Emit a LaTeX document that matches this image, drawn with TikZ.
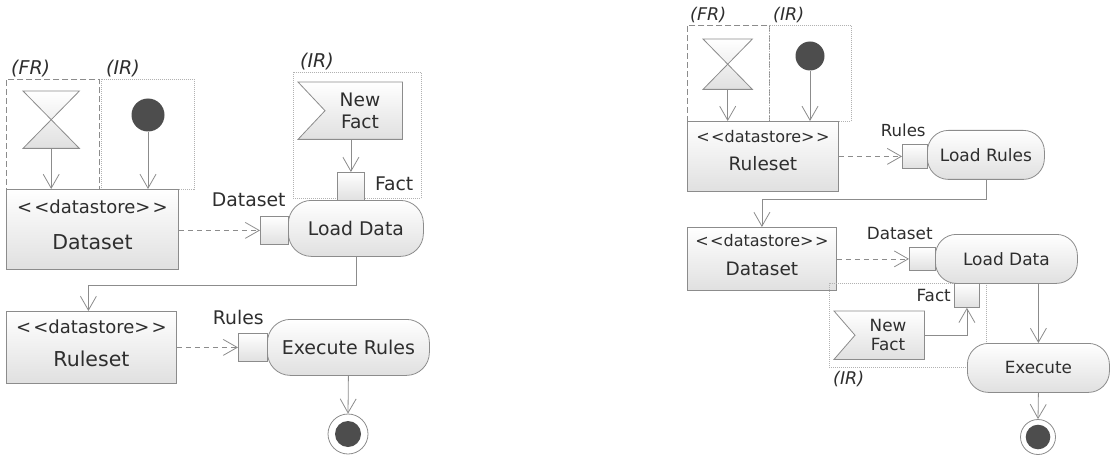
\documentclass[tikz,border=0pt]{standalone}
\usepackage{fontspec}
\setmainfont{DejaVu Sans}
\usetikzlibrary{arrows.meta,calc}
\definecolor{edge}{HTML}{8C8C8C}
\definecolor{shadeb}{HTML}{E0E0E0}
\definecolor{dark}{HTML}{4D4D4D}
\definecolor{txt}{HTML}{2E2E2E}
\newcommand\fsz[2]{\fontsize{#1}{#2}\selectfont}
\begin{document}
\begin{tikzpicture}[x=1pt,y=-1pt,
  every node/.style={text=txt},
  box/.style={draw=edge,line width=0.8pt,top color=white,bottom color=shadeb,inner sep=0pt,anchor=north west},
  act/.style={box,rounded corners=#1},
  pinbox/.style={box},
  ghost/.style={inner sep=0pt,anchor=north west},
  evt/.style={draw=edge,line width=0.8pt,top color=white,bottom color=shadeb},
  frbox/.style={draw=edge,line width=0.8pt,dash pattern=on 6pt off 3pt,anchor=north west,inner sep=0pt},
  irbox/.style={draw=gray!60,line width=0.8pt,dash pattern=on 1pt off 1pt,anchor=north west,inner sep=0pt},
  arr/.style={draw=edge,line width=0.8pt,-{Straight Barb[length=14pt,width=16pt,line width=0.8pt]}},
  dsh/.style={arr,dash pattern=on 5pt off 4pt},
  blob/.style={circle,fill=dark,inner sep=0pt},
  ring/.style={circle,draw=edge,fill=white,line width=0.8pt,inner sep=0pt},
  lab/.style={inner sep=0pt},
]
\useasboundingbox (0,0) rectangle (1110,457);

% ================= LEFT DIAGRAM =================
\node[frbox,minimum width=93pt,minimum height=110pt] (fr1) at (6,79) {};
\node[irbox,minimum width=93pt,minimum height=110pt] (ir1) at (101,79) {};
\node[lab,anchor=south west,font=\fsz{19}{21}\itshape] (fr1l) at ($(fr1.north west)+(5,-2)$) {(FR)};
\node[lab,anchor=south west,font=\fsz{19}{21}\itshape] (ir1l) at ($(ir1.north west)+(5,-2)$) {(IR)};

\node[ghost,minimum width=56pt,minimum height=57pt] (hg1) at (23,91) {};
\path[evt] (hg1.north west) -- (hg1.north east) -- (hg1.south west) -- (hg1.south east) -- cycle;
\node[blob,minimum size=33pt] (c1) at (148,115) {};

\node[box,minimum width=172pt,minimum height=80pt] (ds1) at (6,189) {};
\node[lab,font=\fsz{18}{18}] (ds1s) at ($(ds1.north)+(0,18)$) {<\kern2pt<datastore>\kern2pt>};
\node[lab,font=\fsz{20.5}{20.5}] (ds1n) at ($(ds1.north)+(0,53)$) {Dataset};

\node[irbox,minimum width=128pt,minimum height=126pt] (ir3) at (293,72) {};
\node[lab,anchor=south west,font=\fsz{19}{21}\itshape] (ir3l) at ($(ir3.north west)+(7,-2)$) {(IR)};

\node[ghost,minimum width=104pt,minimum height=57pt] (nf1) at (298,82) {};
\path[evt] (nf1.north west) -- (nf1.north east) -- (nf1.south east) -- (nf1.south west) -- ($(nf1.west)+(27,0)$) -- cycle;
\node[lab,align=center,font=\fsz{18.6}{22}] (nf1t) at (360,111) {New\\Fact};

\node[act=23pt,minimum width=135pt,minimum height=56pt,font=\fsz{18.8}{18.8}] (ld1) at (288,200) {Load Data};
\node[pinbox,minimum width=27pt,minimum height=28pt] (pinF1) at (337,172) {};
\node[lab,anchor=west,font=\fsz{18.8}{18.8}] (pinF1l) at ($(pinF1.east)+(10,-3)$) {Fact};
\node[pinbox,minimum width=28pt,minimum height=28pt] (pinD1) at (260,216) {};
\node[lab,anchor=south east,font=\fsz{18.8}{18.8}] (pinD1l) at ($(pinD1.north east)+(-3,-9)$) {Dataset};

\node[box,minimum width=170pt,minimum height=72pt] (rs1) at (6,311) {};
\node[lab,font=\fsz{18}{18}] (rs1s) at ($(rs1.north)+(0,16)$) {<\kern2pt<datastore>\kern2pt>};
\node[lab,font=\fsz{20.5}{20.5}] (rs1n) at ($(rs1.north)+(0,48)$) {Ruleset};

\node[act=23pt,minimum width=162pt,minimum height=56pt,font=\fsz{19}{19}] (ex1) at (267,319) {Execute Rules};
\node[pinbox,minimum width=29pt,minimum height=28pt] (pinR1) at (238,333) {};
\node[lab,anchor=south east,font=\fsz{18.8}{18.8}] (pinR1l) at ($(pinR1.north east)+(-4,-8)$) {Rules};

\node[ring,minimum size=40pt] (fin1) at (348,434) {};
\node[blob,minimum size=26pt] (fin1i) at (fin1.center) {};

\draw[arr] (hg1.south) -- (hg1.south |- ds1.north);
\draw[arr] (c1.south) -- (c1.south |- ds1.north);
\draw[dsh] (ds1.east |- pinD1.west) -- (pinD1.west);
\draw[arr] (nf1.south -| pinF1.north) -- (pinF1.north);
\draw[arr] (ld1.south) -- ++(0,29) -| ($(rs1.north)+(-3,0)$);
\draw[dsh] (rs1.east |- pinR1.west) -- (pinR1.west);
\draw[arr] (ex1.south) -- (fin1.north);

% ================= RIGHT DIAGRAM =================
\node[frbox,minimum width=82pt,minimum height=96pt] (fr2) at (687,25) {};
\node[irbox,minimum width=82pt,minimum height=96pt] (ir2) at (769,25) {};
\node[lab,anchor=south west,font=\fsz{17.5}{19}\itshape] (fr2l) at ($(fr2.north west)+(3,-2)$) {(FR)};
\node[lab,anchor=south west,font=\fsz{17.5}{19}\itshape] (ir2l) at ($(ir2.north west)+(4,-2)$) {(IR)};

\node[ghost,minimum width=49pt,minimum height=50pt] (hg2) at (703,39) {};
\path[evt] (hg2.north west) -- (hg2.north east) -- (hg2.south west) -- (hg2.south east) -- cycle;
\node[blob,minimum size=29pt] (c2) at (810,56) {};

\node[box,minimum width=151pt,minimum height=70pt] (rs2) at (687,121) {};
\node[lab,font=\fsz{16}{16}] (rs2s) at ($(rs2.north)+(0,16)$) {<\kern1.5pt<datastore>\kern1.5pt>};
\node[lab,font=\fsz{18.5}{18.5}] (rs2n) at ($(rs2.north)+(0,43)$) {Ruleset};

\node[act=21pt,minimum width=117pt,minimum height=49pt,font=\fsz{17}{17}] (lr2) at (927,130) {Load Rules};
\node[pinbox,minimum width=25pt,minimum height=24pt] (pinR2) at (902,144) {};
\node[lab,anchor=south east,font=\fsz{16.6}{16.6}] (pinR2l) at ($(pinR2.north east)+(-2,-7)$) {Rules};

\node[box,minimum width=149pt,minimum height=63pt] (ds2) at (687,227) {};
\node[lab,font=\fsz{16}{16}] (ds2s) at ($(ds2.north)+(0,14)$) {<\kern1.5pt<datastore>\kern1.5pt>};
\node[lab,font=\fsz{18.5}{18.5}] (ds2n) at ($(ds2.north)+(0,42)$) {Dataset};

\node[irbox,minimum width=157pt,minimum height=84pt] (ir4) at (829,283) {};
\node[lab,anchor=north west,font=\fsz{17.5}{19}\itshape] (ir4l) at ($(ir4.south west)+(4,3)$) {(IR)};

\node[act=21pt,minimum width=142pt,minimum height=49pt,font=\fsz{17}{17}] (ld2) at (935,234) {Load Data};
\node[pinbox,minimum width=26pt,minimum height=23pt] (pinD2) at (909,247) {};
\node[lab,anchor=south east,font=\fsz{16.8}{16.8}] (pinD2l) at ($(pinD2.north east)+(-3,-7)$) {Dataset};
\node[pinbox,minimum width=25pt,minimum height=24pt] (pinF2) at (954,283) {};
\node[lab,anchor=east,font=\fsz{16.8}{16.8}] (pinF2l) at ($(pinF2.west)+(-3,0)$) {Fact};

\node[ghost,minimum width=90pt,minimum height=48pt] (nf2) at (834,311) {};
\path[evt] (nf2.north west) -- (nf2.north east) -- (nf2.south east) -- (nf2.south west) -- ($(nf2.west)+(21,0)$) -- cycle;
\node[lab,align=center,font=\fsz{16.8}{19}] (nf2t) at (888,335) {New\\Fact};

\node[act=21pt,minimum width=142pt,minimum height=49pt,font=\fsz{16.8}{16.8}] (ex2) at (967,343) {Execute};

\node[ring,minimum size=35pt] (fin2) at (1038,437) {};
\node[blob,minimum size=24.6pt] (fin2i) at (fin2.center) {};

\draw[arr] (hg2.south) -- (hg2.south |- rs2.north);
\draw[arr] (c2.south) -- (c2.south |- rs2.north);
\draw[dsh] (rs2.east |- pinR2.west) -- (pinR2.west);
\draw[arr] (lr2.south) -- ++(0,20) -| (ds2.north);
\draw[dsh] (ds2.east |- pinD2.west) -- (pinD2.west);
\draw[arr] (nf2.east) -| (pinF2.south);
\draw[arr] (ld2.south -| ex2.north) -- (ex2.north);
\draw[arr] (ex2.south) -- (fin2.north);
\end{tikzpicture}
\end{document}
